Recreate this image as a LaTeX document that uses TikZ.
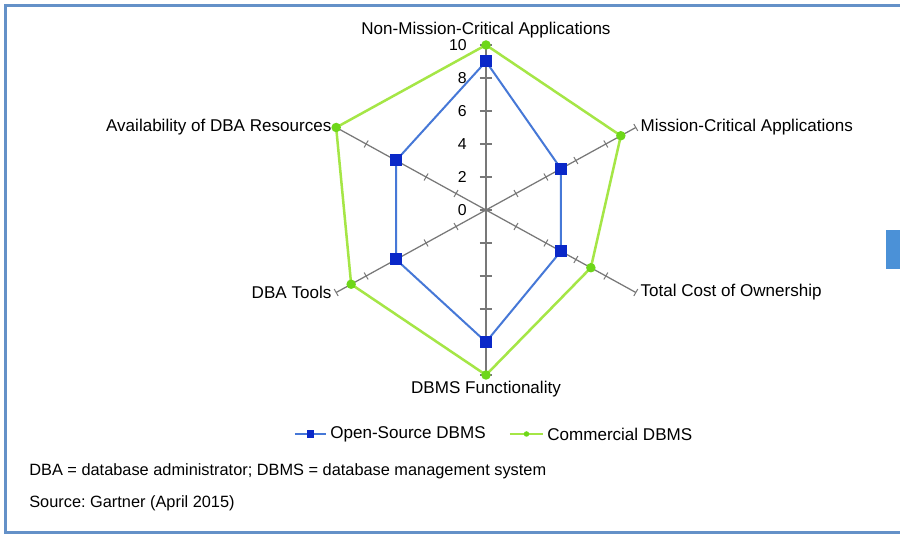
\documentclass[tikz,border=0pt]{standalone}
\usepackage{fontspec}
\setmainfont{Liberation Sans}
\usepackage{tikz}
\usetikzlibrary{positioning}
\frenchspacing

\definecolor{framecol}{RGB}{100,145,200}
\definecolor{axiscol}{RGB}{120,120,120}
\definecolor{openline}{RGB}{70,120,215}
\definecolor{openmark}{RGB}{10,40,200}
\definecolor{commline}{RGB}{165,230,70}
\definecolor{commmark}{RGB}{110,215,25}
\definecolor{tabblue}{RGB}{75,145,215}

\tikzset{
  axisline/.style={axiscol, line width=0.25mm},
  axistick/.style={axiscol, line width=0.2mm},
  opensrc/.style={openline, line width=0.4mm, line join=round},
  commerc/.style={commline, line width=0.5mm, line join=round},
  openpt/.style={fill=openmark, rectangle, minimum size=2.4mm, inner sep=0pt},
  commpt/.style={fill=commmark, circle, minimum size=1.9mm, inner sep=0pt},
  catlabel/.style={font=\fontsize{9.7}{12}\selectfont, inner sep=0.6mm},
  ticklabel/.style={font=\fontsize{9}{10}\selectfont, anchor=east, inner sep=0pt},
  note/.style={font=\fontsize{9.3}{11}\selectfont, anchor=west, inner sep=0pt}
}

\begin{document}
\begin{tikzpicture}[x=3.46mm, y=3.3mm]
    \useasboundingbox (-97.2mm,-65.2mm) rectangle (82.8mm,42mm);
    \fill[white] (-97.2mm,-65.2mm) rectangle (82.8mm,42mm);
    \draw[framecol, line width=0.6mm] (-96mm,-64.6mm) rectangle (86mm,40.8mm);
    \fill[tabblue] (80mm,-4mm) rectangle (84mm,-11.8mm);

    % axes
    \coordinate (c) at (0,0);
    \foreach \ang [count=\i] in {90,30,-30,-90,210,150} {
      \coordinate (a\i) at (\ang:10);
      \draw[axisline] (c) -- (a\i);
    }
    \foreach \ang in {30,-30,210,150}
      \foreach \t in {2,4,...,10}
        \draw[axistick] (\ang:\t) ++(\ang+90:0.8mm) -- ++(\ang-90:1.6mm);
    \foreach \t in {-10,-8,...,10}
      \draw[axisline] (0,\t) ++(-1.2mm,0) -- ++(2.4mm,0);
    \foreach \t in {0,2,...,10}
      \node[ticklabel] (t\t) at ([xshift=-3.8mm]0,\t) {\t};

    \node[catlabel, above=0.8mm of a1] (nmc) {Non-Mission-Critical Applications};
    \node[catlabel, right=0.3mm of a2] (mc) {Mission-Critical Applications};
    \node[catlabel, right=0.3mm of a3] (tco) {Total Cost of Ownership};
    \node[catlabel, below=0.6mm of a4] (fun) {DBMS Functionality};
    \node[catlabel, left=0.3mm of a5] (tool) {DBA Tools};
    \node[catlabel, left=0.3mm of a6] (res) {Availability of DBA Resources};

    % series
    \foreach \ang/\v [count=\i] in {90/9,30/5,-30/5,-90/8,210/6,150/6}
      \coordinate (o\i) at (\ang:\v);
    \foreach \ang/\v [count=\i] in {90/10,30/9,-30/7,-90/10,210/9,150/10}
      \coordinate (m\i) at (\ang:\v);
    \draw[commerc] (m1) -- (m2) -- (m3) -- (m4) -- (m5) -- (m6) -- cycle;
    \draw[opensrc] (o1) -- (o2) -- (o3) -- (o4) -- (o5) -- (o6) -- cycle;
    \foreach \i in {1,...,6} {
      \node[commpt] (mp\i) at (m\i) {};
      \node[openpt] (op\i) at (o\i) {};
    }

    % legend
    \coordinate (lo1) at (-38.2mm,-44.8mm);
    \coordinate (lo2) at (-32mm,-44.8mm);
    \draw[opensrc] (lo1) -- node[openpt, minimum size=1.5mm] (lop) {} (lo2);
    \node[catlabel, right=0.2mm of lo2] (lot) {Open-Source DBMS};
    \coordinate (lc1) at (4.8mm,-44.8mm);
    \coordinate (lc2) at (11.4mm,-44.8mm);
    \draw[commerc] (lc1) -- node[commpt, minimum size=1.1mm] (lcp) {} (lc2);
    \node[catlabel, right=0.2mm of lc2] (lct) {Commercial DBMS};

    \node[note] (abbr) at (-91.4mm,-52.2mm) {DBA = database administrator; DBMS = database management system};
    \node[note] (src) at (-91.4mm,-58.6mm) {Source: Gartner (April 2015)};
\end{tikzpicture}
\end{document}
